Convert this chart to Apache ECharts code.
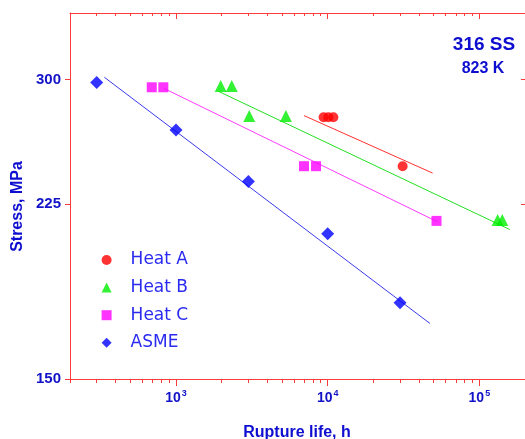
<!DOCTYPE html>
<html>
<head>
<meta charset="utf-8">
<script src="https://cdn.jsdelivr.net/npm/echarts@6/dist/echarts.min.js"></script>
<style>
  html, body { margin: 0; padding: 0; background: #ffffff; }
  #chart { width: 525px; height: 439px; }
</style>
</head>
<body>
<div id="chart"></div>
<script>
// Creep rupture data, 316 stainless steel at 823 K (life in hours, stress in MPa)
const seriesNames = ['Heat A', 'Heat B', 'Heat C', 'ASME'];

const heatALife   = [9400, 10100, 10900, 31200];
const heatAStress = [275, 275, 275, 245.5];

const heatBLife   = [1970, 2330, 3040, 5300, 132000, 141600];
const heatBStress = [295.6, 295.6, 275.7, 275.7, 216.8, 216.8];

const heatCLife   = [692, 825, 6980, 8380, 52200];
const heatCStress = [294.7, 294.7, 245.5, 245.5, 216.3];

const asmeLife    = [300, 1000, 3000, 10000, 30000];
const asmeStress  = [298, 267, 237, 210, 179];

// Fitted trend lines (end points)
const fitALife   = [6980, 49200];
const fitAStress = [276, 241.6];
const fitBLife   = [1900, 159000];
const fitBStress = [292, 212];
const fitCLife   = [830, 52500];
const fitCStress = [294, 216];
const fitDLife   = [337, 47200];
const fitDStress = [301.6, 170.6];

// Axis ticks
const lifeMajorTicks  = [1000, 10000, 100000];
const lifeMinorTicks  = [200, 300, 400, 500, 600, 700, 800, 900,
                         2000, 3000, 4000, 5000, 6000, 7000, 8000, 9000,
                         20000, 30000, 40000, 50000, 60000, 70000, 80000, 90000, 200000];
const stressTicks     = [150, 225, 300];

const zip = (xs, ys) => xs.map((x, i) => [x, ys[i]]);

const axisRed  = '#ff3a3a';
const labelBlue = '#1212c8';

const lifeRange   = { min: 200, max: 200000 };
const stressRange = { min: 150, max: 350 };

function lifeAxis(pos, ticks, len, inside, withLabels, withLine) {
  return Object.assign({
    type: 'log', logBase: 10, position: pos,
    axisLine: { show: withLine, onZero: false, lineStyle: { color: axisRed, width: 1 } },
    axisTick: { show: true, inside: inside, length: len, customValues: ticks,
                lineStyle: { color: axisRed, width: 1 } },
    minorTick: { show: false },
    splitLine: { show: false },
    axisLabel: withLabels ? {
      show: true, margin: 10, customValues: ticks,
      formatter: v => '{b|10}{s|' + Math.round(Math.log10(v)) + '}',
      rich: {
        b: { fontFamily: 'Liberation Sans, Arial, sans-serif', fontWeight: 'bold', fontSize: 14,
             color: labelBlue, lineHeight: 16, verticalAlign: 'bottom' },
        s: { fontFamily: 'Liberation Sans, Arial, sans-serif', fontWeight: 'bold', fontSize: 9,
             color: labelBlue, lineHeight: 16, verticalAlign: 'top', padding: [0, 0, 0, 1] }
      }
    } : { show: false }
  }, lifeRange);
}

function stressAxis(pos, len, inside, withLabels) {
  return Object.assign({
    type: 'log', logBase: 10, position: pos,
    axisLine: { show: true, onZero: false, lineStyle: { color: axisRed, width: 1 } },
    axisTick: { show: true, inside: inside, length: len, customValues: stressTicks,
                lineStyle: { color: axisRed, width: 1 } },
    minorTick: { show: false },
    splitLine: { show: false },
    axisLabel: withLabels ? {
      show: true, margin: 9, customValues: stressTicks,
      fontFamily: 'Liberation Sans, Arial, sans-serif', fontWeight: 'bold', fontSize: 15,
      color: labelBlue
    } : { show: false }
  }, stressRange);
}

function fitLine(name, life, stress, color) {
  return {
    name: name, type: 'line', data: zip(life, stress),
    symbol: 'none', silent: true, z: 1,
    lineStyle: { color: color, width: 1 }
  };
}

function points(name, life, stress, symbol, size, color) {
  return {
    name: name, type: 'scatter', data: zip(life, stress),
    symbol: symbol, symbolSize: size, z: 3,
    itemStyle: { color: color }
  };
}

const chart = echarts.init(document.getElementById('chart'), null, { renderer: 'canvas' });

chart.setOption({
  backgroundColor: '#ffffff',
  animation: false,
  grid: { left: 70, top: 13, right: -1, bottom: 60, containLabel: false },
  xAxis: [
    lifeAxis('bottom', lifeMajorTicks, 7, false, true, true),
    lifeAxis('bottom', lifeMinorTicks, 4, false, false, false),
    lifeAxis('top', lifeMajorTicks, 6, true, false, true),
    lifeAxis('top', lifeMinorTicks, 3, true, false, false)
  ],
  yAxis: [
    stressAxis('left', 5, false, true),
    stressAxis('right', 4, true, false)
  ],
  legend: {
    data: seriesNames,
    orient: 'vertical',
    left: 101.6, top: 251,
    padding: 0,
    itemWidth: 10, itemHeight: 10, itemGap: 9.6,
    selectedMode: false,
    textStyle: {
      fontFamily: 'DejaVu Sans, Verdana, sans-serif', fontSize: 17, color: '#2a2af0',
      lineHeight: 18, padding: [0, 0, 0, 14]
    }
  },
  graphic: [
    { type: 'text', x: 484, y: 45,
      style: { text: '316 SS', fill: '#0e0ed0', align: 'center', verticalAlign: 'middle',
               font: 'bold 19px "Liberation Sans", Arial, sans-serif' } },
    { type: 'text', x: 483, y: 69,
      style: { text: '823 K', fill: '#0e0ed0', align: 'center', verticalAlign: 'middle',
               font: 'bold 16px "Liberation Sans", Arial, sans-serif' } },
    { type: 'text', x: 18, y: 206.5, rotation: Math.PI / 2,
      style: { text: 'Stress, MPa', fill: '#0e0ed0', align: 'center', verticalAlign: 'middle',
               font: 'bold 16px "Liberation Sans", Arial, sans-serif' } },
    { type: 'text', x: 297, y: 433,
      style: { text: 'Rupture life, h', fill: '#0e0ed0', align: 'center', verticalAlign: 'middle',
               font: 'bold 16px "Liberation Sans", Arial, sans-serif' } }
  ],
  series: [
    fitLine('Heat A fit', fitALife, fitAStress, '#ff3030'),
    fitLine('Heat B fit', fitBLife, fitBStress, '#22e022'),
    fitLine('Heat C fit', fitCLife, fitCStress, '#ff3cff'),
    fitLine('ASME fit', fitDLife, fitDStress, '#3a3aee'),
    points('Heat A', heatALife, heatAStress, 'circle', 10, '#ff0000'),
    points('Heat B', heatBLife, heatBStress, 'triangle', 12, '#00ee00'),
    points('Heat C', heatCLife, heatCStress, 'rect', 10, '#ff00ff'),
    points('ASME', asmeLife, asmeStress, 'diamond', 13, '#0000ff')
  ]
});
</script>
</body>
</html>
